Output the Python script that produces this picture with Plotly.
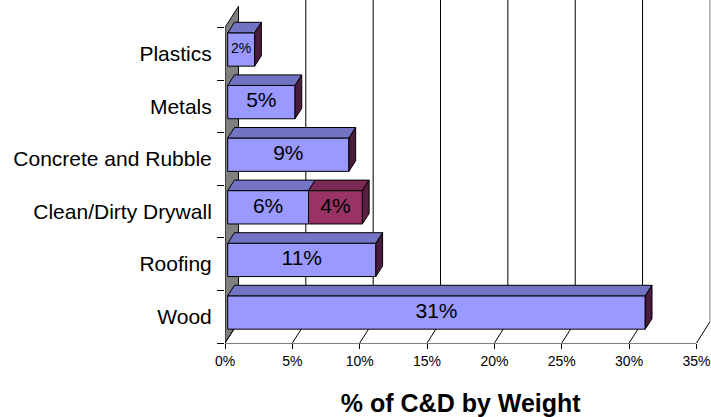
import plotly.graph_objects as go

# Share of construction & demolition waste by weight (percent)
categories = ["Wood", "Roofing", "Clean/Dirty Drywall",
              "Concrete and Rubble", "Metals", "Plastics"]
clean_share = [31, 11, 6, 9, 5, 2]      # first (blue) series
dirty_share = [0, 0, 4, 0, 0, 0]        # second (maroon) series, stacked
x_ticks = [0, 5, 10, 15, 20, 25, 30, 35]
x_tick_text = [f"{t}%" for t in x_ticks]

# ---- styling / projection constants ----
FONT = "Liberation Sans, Arial, sans-serif"
W, H = 711, 417
ML, MB = 225, 74
PX_PER_PCT = 13.47
PX_PER_CAT = 52.6
X_MAX = (W - ML) / PX_PER_PCT
Y_MAX = (H - MB) / PX_PER_CAT
DX, DY = 1.0, 0.4          # oblique depth of the floor / wall (data units)
F0, F1 = 0.2, 0.7          # bar front / back position within the depth
HALF = 0.317               # half bar thickness in category units

BLUE = dict(front="#9999FF", top="#7373C4", side="#4A1B3C")
MAROON = dict(front="#993366", top="#7A2A55", side="#5A1E40")

fig = go.Figure()


def poly(xs, ys, fill, color="#000000", width=1):
    fig.add_trace(go.Scatter(
        x=list(xs) + [xs[0]], y=list(ys) + [ys[0]], mode="lines",
        fill="toself", fillcolor=fill, line=dict(color=color, width=width),
        hoverinfo="skip", showlegend=False))


def line(xs, ys, color="#000000", width=1):
    fig.add_trace(go.Scatter(
        x=xs, y=ys, mode="lines", line=dict(color=color, width=width),
        hoverinfo="skip", showlegend=False))


# side wall
poly([0, 0, DX, DX], [0, len(categories), len(categories) + DY, DY], "#808080")

# back wall gridlines and floor diagonals
for t in x_ticks:
    if t > 0:
        line([t + DX, t + DX], [DY, Y_MAX],
             "#808080" if t == x_ticks[-1] else "#000000")
    line([t, t + DX], [0, DY], "#000000")


def box(i, x0, x1, pal, draw_side=True):
    yc = i + 0.5
    a, b = F0 * DX, F0 * DY
    a2, b2 = F1 * DX, F1 * DY
    lo, hi = yc - HALF, yc + HALF
    # front face
    poly([x0 + a, x1 + a, x1 + a, x0 + a], [lo + b, lo + b, hi + b, hi + b], pal["front"])
    # top face
    poly([x0 + a, x1 + a, x1 + a2, x0 + a2], [hi + b, hi + b, hi + b2, hi + b2], pal["top"])
    # right side face
    if draw_side:
        poly([x1 + a, x1 + a2, x1 + a2, x1 + a], [lo + b, lo + b2, hi + b2, hi + b], pal["side"])


label_x, label_y, label_t, label_s = [], [], [], []
for i, cat in enumerate(categories):
    c, d = clean_share[i], dirty_share[i]
    box(i, 0, c, BLUE, draw_side=(d == 0))
    label_x.append(F0 * DX + c / 2)
    label_y.append(i + 0.5 + F0 * DY)
    label_t.append(f"{c}%")
    label_s.append(14 if c < 3 else 21)
    if d > 0:
        box(i, c, c + d, MAROON)
        label_x.append(F0 * DX + c + d / 2)
        label_y.append(i + 0.5 + F0 * DY)
        label_t.append(f"{d}%")
        label_s.append(14 if d < 3 else 21)

fig.add_trace(go.Scatter(
    x=label_x, y=label_y, mode="text", text=label_t,
    textfont=dict(family=FONT, size=label_s, color="#000000"),
    hoverinfo="skip", showlegend=False))

# carrier traces for the tick axes
fig.add_trace(go.Scatter(x=[None], y=[None], xaxis="x2", yaxis="y",
                         hoverinfo="skip", showlegend=False))
fig.add_trace(go.Scatter(x=[None], y=[None], xaxis="x", yaxis="y2",
                         hoverinfo="skip", showlegend=False))

fig.update_layout(
    width=W, height=H,
    margin=dict(l=ML, r=0, t=0, b=MB, autoexpand=False),
    paper_bgcolor="white", plot_bgcolor="rgba(0,0,0,0)",
    font=dict(family=FONT, color="#000000"),
    xaxis=dict(range=[0, X_MAX], domain=[0, 1], visible=False, fixedrange=True,
               automargin=False),
    xaxis2=dict(range=[0, x_ticks[-1]], domain=[0, x_ticks[-1] / X_MAX], anchor="y",
                tickvals=x_ticks, ticktext=x_tick_text, ticks="outside", ticklen=5,
                tickcolor="#000000", tickfont=dict(size=14), automargin=False,
                showline=True, linecolor="#808080", linewidth=1,
                showgrid=False, zeroline=False,
                title=dict(text="<b>% of C&D by Weight</b>", font=dict(size=25),
                           standoff=26)),
    yaxis=dict(range=[0, Y_MAX], domain=[0, 1], automargin=False,
               tickvals=list(range(len(categories) + 1)), showticklabels=False,
               ticks="outside", ticklen=7, tickcolor="#000000",
               showline=False, showgrid=False, zeroline=False),
    yaxis2=dict(range=[0, Y_MAX], overlaying="y", side="left", automargin=False,
                tickvals=[i + 0.5 for i in range(len(categories))], ticktext=categories,
                ticks="outside", ticklen=8, tickcolor="rgba(0,0,0,0)",
                tickfont=dict(size=21),
                showline=False, showgrid=False, zeroline=False),
)

fig.write_html("out.html")
